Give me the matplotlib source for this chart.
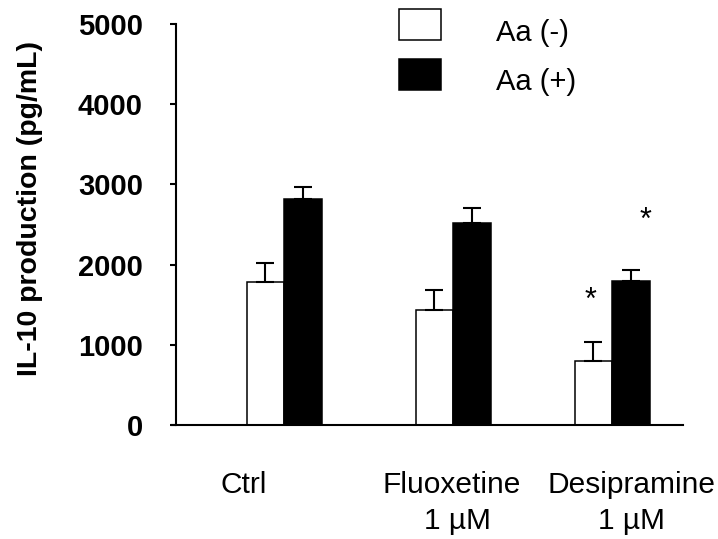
import numpy as np
import matplotlib.pyplot as plt
from matplotlib.patches import Rectangle

plt.rcParams['font.family'] = ['Liberation Sans', 'DejaVu Sans']

# data
groups = ['Ctrl', 'Fluoxetine', 'Desipramine']
doses = ['', '1 µM', '1 µM']
aa_neg = [1787, 1434, 798]
aa_neg_err = [229, 249, 233]
aa_pos = [2818, 2515, 1796]
aa_pos_err = [153, 187, 137]
star_neg = [False, False, True]
star_pos = [False, False, True]

W, H = 718, 539

# layout (x in pixel-like units)
centers = np.array([284, 453, 612])
width = 37.5

fig = plt.figure(figsize=(W / 100, H / 100), dpi=100)
ax = fig.add_axes([176 / W, 1 - 425 / H, (683 - 176) / W, (425 - 24) / H])

ax.bar(centers - width / 2, aa_neg, width, color='white', edgecolor='black', linewidth=1.1)
ax.bar(centers + width / 2, aa_pos, width, color='black', edgecolor='black', linewidth=1.1)
ax.errorbar(centers - width / 2, aa_neg, yerr=[np.zeros(3), aa_neg_err], fmt='none',
            ecolor='black', elinewidth=1.5, capsize=6.5, capthick=1.5)
ax.errorbar(centers + width / 2, aa_pos, yerr=[np.zeros(3), aa_pos_err], fmt='none',
            ecolor='black', elinewidth=1.5, capsize=6.5, capthick=1.5)

# significance marks
for i in range(3):
    if star_neg[i]:
        ax.text(centers[i] - width / 2 - 3, aa_neg[i] + aa_neg_err[i] + 515, '*',
                ha='center', va='center', fontsize=22)
    if star_pos[i]:
        ax.text(centers[i] + width / 2 + 15, aa_pos[i] + aa_pos_err[i] + 615, '*',
                ha='center', va='center', fontsize=22)

ax.set_xlim(176, 683)
ax.set_ylim(0, 5000)
ax.set_yticks([0, 1000, 2000, 3000, 4000, 5000])
ax.tick_params(axis='y', direction='out', length=4.3, width=1.5, pad=19.5, labelsize=21)
for lab in ax.get_yticklabels():
    lab.set_fontweight('bold')
ax.set_xticks([])
ax.spines['top'].set_visible(False)
ax.spines['right'].set_visible(False)
ax.spines['left'].set_linewidth(1.5)
ax.spines['bottom'].set_linewidth(1.5)
ax.spines['bottom'].set_bounds(172, 683)

fig.text(30 / W, 1 - 208 / H, 'IL-10 production (pg/mL)', rotation=90, ha='center',
         va='center', fontsize=20.5, fontweight='bold')

# category labels below the axis
name_x = [244, 452, 631]
dose_x = [244, 457, 632]
for i in range(3):
    fig.text(name_x[i] / W, 1 - 493 / H, groups[i], ha='center', va='baseline', fontsize=21.5)
    if doses[i]:
        fig.text(dose_x[i] / W, 1 - 529 / H, doses[i], ha='center', va='baseline', fontsize=21.5)

# legend drawn by hand
legend_items = [('Aa (-)', 'white', 9, 41), ('Aa (+)', 'black', 59, 90)]
for label, fc, top, base in legend_items:
    fig.add_artist(Rectangle((399 / W, 1 - (top + 31) / H), 42 / W, 31 / H,
                             transform=fig.transFigure, facecolor=fc,
                             edgecolor='black', linewidth=1.1))
    fig.text(496 / W, 1 - base / H, label, ha='left', va='baseline', fontsize=21)

fig.savefig('out.png', dpi=100)
